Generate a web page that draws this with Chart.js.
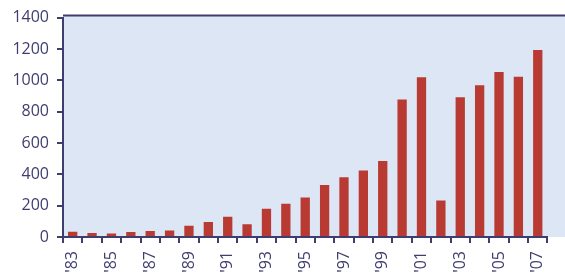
<!DOCTYPE html>
<html>
<head>
<meta charset="utf-8">
<script src="https://cdn.jsdelivr.net/npm/chart.js@4"></script>
<style>
  html, body { margin: 0; padding: 0; background: #fff; }
  #wrap { width: 565px; height: 277px; }
</style>
</head>
<body>
<div id="wrap"><canvas id="grafico"></canvas></div>
<script>
const anos = ["'83", "'84", "'85", "'86", "'87", "'88", "'89", "'90", "'91", "'92",
  "'93", "'94", "'95", "'96", "'97", "'98", "'99", "'00", "'01", "'02",
  "'03", "'04", "'05", "'06", "'07"];
const valores = [33, 25, 22, 32, 38, 42, 71, 96, 130, 82,
  180, 212, 252, 332, 382, 424, 485, 878, 1019, 233,
  891, 968, 1053, 1023, 1193];
const yTicks = [0, 200, 400, 600, 800, 1000, 1200, 1400];

const corEixo = '#3f3d6d';
const corFundo = '#dde6f4';

// fundo azul claro e linha superior
const fundo = {
  id: 'fundo',
  beforeDraw(chart) {
    const { ctx, chartArea } = chart;
    ctx.save();
    ctx.fillStyle = corFundo;
    ctx.fillRect(chartArea.left, chartArea.top - 2, chart.width - chartArea.left, chartArea.bottom - chartArea.top + 2);
    ctx.strokeStyle = corEixo;
    ctx.lineWidth = 2;
    ctx.beginPath();
    ctx.moveTo(chartArea.left, chartArea.top - 2);
    ctx.lineTo(chart.width, chartArea.top - 2);
    ctx.stroke();
    ctx.restore();
  }
};

const ctx = document.getElementById('grafico');
new Chart(ctx, {
  type: 'bar',
  data: {
    labels: anos,
    datasets: [{
      data: valores,
      backgroundColor: '#b83a32',
      borderWidth: 0,
      barPercentage: 0.48,
      categoryPercentage: 1
    }]
  },
  options: {
    animation: false,
    responsive: true,
    maintainAspectRatio: false,
    layout: { padding: { top: 15, right: 2, left: 0, bottom: 0 } },
    plugins: { legend: { display: false }, tooltip: { enabled: false } },
    scales: {
      x: {
        grid: { display: true, drawOnChartArea: false, tickLength: 6, color: corEixo, lineWidth: 2, offset: true },
        border: { display: true, color: corEixo, width: 2 },
        ticks: {
          autoSkip: false,
          minRotation: 90,
          maxRotation: 90,
          padding: 8,
          color: corEixo,
          font: { family: 'Open Sans', size: 16 },
          callback: function (v, i) { return i % 2 === 0 ? anos[i] : ''; }
        },
        afterFit(scale) { scale.height = 40; }
      },
      y: {
        min: 0,
        max: 1400,
        afterBuildTicks(scale) { scale.ticks = yTicks.map(v => ({ value: v })); },
        grid: { display: true, drawOnChartArea: false, tickLength: 6, color: corEixo, lineWidth: 2 },
        border: { display: true, color: corEixo, width: 2 },
        ticks: {
          padding: 8,
          color: corEixo,
          font: { family: 'Open Sans', size: 16 },
          callback: v => String(v)
        },
        afterFit(scale) { scale.width = 63; }
      }
    }
  },
  plugins: [fundo]
});
</script>
</body>
</html>
